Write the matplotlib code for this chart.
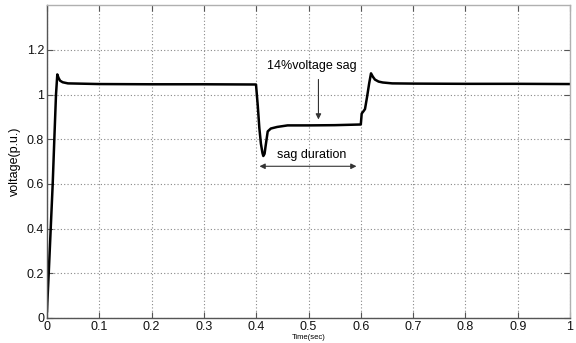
import numpy as np
import matplotlib.pyplot as plt

plt.rcParams['font.family'] = ['Liberation Sans', 'DejaVu Sans']

# voltage waveform (p.u.) sampled at the main turning points
t = [0.0, 0.0006, 0.0033, 0.0071, 0.0109, 0.014, 0.0172, 0.0197, 0.022, 0.025, 0.03,
     0.04, 0.1, 0.2, 0.3, 0.3996, 0.403, 0.406, 0.409, 0.412, 0.4136, 0.416, 0.418,
     0.422, 0.428, 0.44, 0.46, 0.5, 0.55, 0.6, 0.6017, 0.605, 0.608, 0.612, 0.616,
     0.6195, 0.623, 0.627, 0.634, 0.642, 0.66, 0.7, 0.8, 0.9, 1.0]
v = [0.03, 0.067, 0.2, 0.4, 0.6, 0.8, 1.0, 1.09, 1.075, 1.062, 1.055,
     1.05, 1.047, 1.046, 1.046, 1.045, 0.95, 0.85, 0.78, 0.738, 0.725, 0.735, 0.77,
     0.835, 0.848, 0.855, 0.862, 0.862, 0.863, 0.866, 0.915, 0.925, 0.935, 0.99, 1.05,
     1.095, 1.08, 1.067, 1.058, 1.054, 1.05, 1.049, 1.048, 1.048, 1.047]

xticks = np.round(np.arange(0, 1.01, 0.1), 1)
yticks = np.round(np.arange(0, 1.21, 0.2), 1)
xtick_labels = ['0', '0.1', '0.2', '0.3', '0.4', '0.5', '0.6', '0.7', '0.8', '0.9', '1']
ytick_labels = ['0', '0.2', '0.4', '0.6', '0.8', '1', '1.2']

fig = plt.figure(figsize=(5.76, 3.43), dpi=100)
ax = fig.add_axes([0.0816, 0.0729, 0.908, 0.912])

ax.plot(t, v, color='black', lw=1.8)

ax.set_xlim(0, 1)
ax.set_ylim(0, 1.4)
ax.set_xticks(xticks)
ax.set_xticklabels(xtick_labels)
ax.set_yticks(yticks)
ax.set_yticklabels(ytick_labels)
ax.tick_params(direction='in', length=4, width=0.8, color='#555555',
               labelsize=9, labelcolor='#111111', top=True, right=True, pad=2)
ax.grid(True, linestyle=(0, (1, 2)), color='#888888', linewidth=0.8)

for side in ('left', 'bottom'):
    ax.spines[side].set_color('#555555')
for side in ('top', 'right'):
    ax.spines[side].set_color('#b0b0b0')
for s in ax.spines.values():
    s.set_linewidth(1.0)

ax.set_ylabel('voltage(p.u.)', fontsize=9, labelpad=4)
ax.set_xlabel('Time(sec)', fontsize=5.5, labelpad=1)

# sag depth
ax.annotate('', xy=(0.519, 0.876), xytext=(0.519, 1.08),
            arrowprops=dict(arrowstyle='-|>', color='#333333', lw=0.8,
                            mutation_scale=8))
ax.text(0.506, 1.129, '14%voltage sag', fontsize=9, ha='center', va='center')

# sag duration
ax.annotate('', xy=(0.401, 0.679), xytext=(0.597, 0.679),
            arrowprops=dict(arrowstyle='<|-|>', color='#333333', lw=0.8,
                            mutation_scale=8))
ax.text(0.507, 0.728, 'sag duration', fontsize=9, ha='center', va='center')

fig.savefig('out.png', dpi=100)
